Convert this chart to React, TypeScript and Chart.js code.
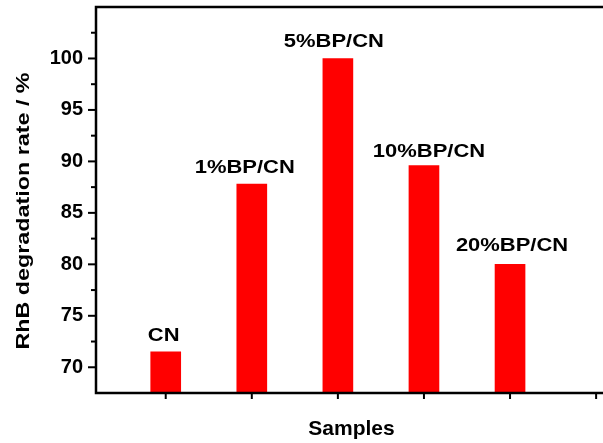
import React, { useEffect, useRef } from "react";
import { Chart, registerables } from "chart.js";

Chart.register(...registerables);

// ---- data ----
const samples = ["CN", "1%BP/CN", "5%BP/CN", "10%BP/CN", "20%BP/CN"];
const samplePositions = [1, 2, 3, 4, 5];
const degradationRate = [71.5, 87.8, 100, 89.6, 80];
const xTickPositions = [1, 2, 3, 4, 5, 6];
const yMin = 67.5;
const yMax = 105;
const yStep = 2.5;
const yMajorStep = 5;
const yLabelMin = 70;
const yLabelMax = 100;
const xMin = 0.19;
const xMax = 6.08;
const yTitle = "RhB degradation rate / %";
const xTitle = "Samples";

// ---- style ----
const FONT = "'Liberation Sans', Arial, Helvetica, sans-serif";
const BAR_COLOR = "#ff0000";
const LABEL_DX = [-2, -7, -4, 5, 2];
const LABEL_GAP = [11, 11, 11.5, 9, 13];

const decorPlugin = {
  id: "decor",
  afterDatasetsDraw(chart: any) {
    const ctx = chart.ctx;
    const meta = chart.getDatasetMeta(0);
    ctx.save();
    ctx.fillStyle = "#000";
    ctx.font = `bold 18px ${FONT}`;
    ctx.textAlign = "center";
    ctx.textBaseline = "alphabetic";
    meta.data.forEach((el: any, i: number) => {
      ctx.save();
      ctx.translate(el.x + LABEL_DX[i], el.y - LABEL_GAP[i]);
      ctx.scale(1.22, 1);
      ctx.fillText(samples[i], 0, 0);
      ctx.restore();
    });
    ctx.restore();
  },
  afterDraw(chart: any) {
    const ctx = chart.ctx;
    const { left, right, top, bottom } = chart.chartArea;
    const xs = chart.scales.x;
    const ys = chart.scales.y;
    ctx.save();
    ctx.strokeStyle = "#000";
    ctx.lineWidth = 2.5;
    ctx.lineCap = "square";
    ctx.beginPath();
    ctx.moveTo(left, top);
    ctx.lineTo(right + 5, top);
    ctx.moveTo(left, top);
    ctx.lineTo(left, bottom);
    ctx.lineTo(right + 5, bottom);
    ctx.stroke();

    // y ticks (outward)
    ctx.lineWidth = 2;
    ctx.lineCap = "butt";
    ys.ticks.forEach((t: any) => {
      const v = t.value;
      if (v <= yMin + 1e-6 || v >= yMax - 1e-6) return;
      const py = ys.getPixelForValue(v);
      const major = Math.abs(v / yMajorStep - Math.round(v / yMajorStep)) < 1e-6;
      const len = major ? 8 : 5;
      ctx.beginPath();
      ctx.moveTo(left, py);
      ctx.lineTo(left - len, py);
      ctx.stroke();
    });
    // x ticks (outward)
    xs.ticks.forEach((t: any) => {
      const px = xs.getPixelForValue(t.value);
      ctx.beginPath();
      ctx.moveTo(px, bottom);
      ctx.lineTo(px, bottom + 6);
      ctx.stroke();
    });

    // axis titles
    ctx.fillStyle = "#000";
    ctx.textAlign = "center";
    ctx.textBaseline = "alphabetic";
    ctx.save();
    ctx.font = `bold 18.5px ${FONT}`;
    ctx.translate(28.5, (top + bottom) / 2 + 11);
    ctx.rotate(-Math.PI / 2);
    ctx.scale(1.26, 1);
    ctx.fillText(yTitle, 0, 0);
    ctx.restore();

    ctx.font = `bold 21px ${FONT}`;
    ctx.fillText(xTitle, (left + right) / 2 + 2, bottom + 42);
    ctx.restore();
  },
};

const zeroPad = (s: any) => {
  s.paddingTop = 0;
  s.paddingBottom = 0;
  s.paddingLeft = 0;
  s.paddingRight = 0;
};

export default function App() {
  const ref = useRef<HTMLCanvasElement | null>(null);

  useEffect(() => {
    if (!ref.current) return;
    const chart = new Chart(ref.current, {
      type: "bar",
      data: {
        datasets: [
          {
            label: "RhB degradation rate",
            data: samplePositions.map((x, i) => ({ x, y: degradationRate[i] })),
            backgroundColor: BAR_COLOR,
            borderWidth: 0,
            barThickness: 30,
          },
        ],
      },
      options: {
        responsive: false,
        animation: false,
        devicePixelRatio: 1,
        layout: { padding: { top: 7, right: 0, bottom: 0, left: 0 } },
        plugins: {
          legend: { display: false },
          tooltip: { enabled: false },
          title: { display: false },
        },
        scales: {
          x: {
            type: "linear",
            offset: false,
            min: xMin,
            max: xMax,
            grid: { display: false, offset: false },
            border: { display: false },
            ticks: { display: false },
            afterBuildTicks: (s: any) => {
              s.ticks = xTickPositions.map((v) => ({ value: v }));
            },
            afterFit: (s: any) => {
              s.height = 50;
              zeroPad(s);
            },
          },
          y: {
            type: "linear",
            min: yMin,
            max: yMax,
            grid: { display: false, drawTicks: false },
            border: { display: false },
            ticks: {
              stepSize: yStep,
              autoSkip: false,
              padding: 13,
              color: "#000",
              font: { family: FONT, size: 20, weight: "bold" },
              callback: (v: any) => {
                const n = Number(v);
                const major = Math.abs(n / yMajorStep - Math.round(n / yMajorStep)) < 1e-6;
                return major && n >= yLabelMin && n <= yLabelMax ? String(n) : "";
              },
            },
            afterFit: (s: any) => {
              s.width = 96;
              zeroPad(s);
            },
          },
        },
      },
      plugins: [decorPlugin],
    });
    return () => chart.destroy();
  }, []);

  return (
    <div style={{ position: "fixed", left: 0, top: 0, width: 603, height: 443, overflow: "hidden", background: "#fff" }}>
      <canvas ref={ref} width={603} height={443} style={{ width: 603, height: 443, display: "block" }} />
    </div>
  );
}
